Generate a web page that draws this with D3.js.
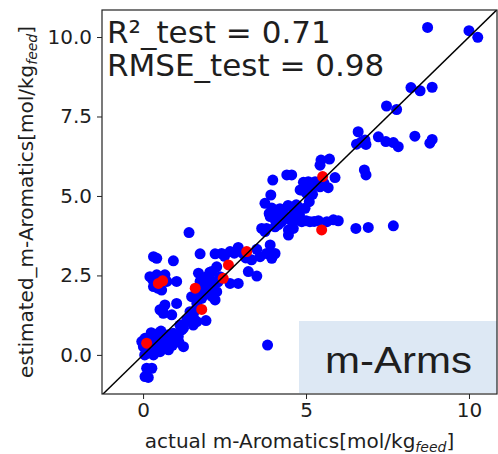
<!DOCTYPE html>
<html>
<head>
<meta charset="utf-8">
<script src="https://cdn.jsdelivr.net/npm/d3@7"></script>
<style>
  html, body { margin: 0; padding: 0; background: #fff; }
  svg { display: block; }
  text { font-family: "DejaVu Sans", sans-serif; fill: #1e1e1e; }
</style>
</head>
<body>
<svg id="chart" width="498" height="454"></svg>
<script>
// Parity plot: actual vs estimated m-Aromatics (mol/kg feed)
const xDomain = [-1.26, 10.86];
const yDomain = [-1.23, 10.85];
const xTicks = [0, 5, 10];
const yTicks = [0, 2.5, 5, 7.5, 10];
const r2Text = "R\u00b2_test = 0.71";
const rmseText = "RMSE_test = 0.98";
const tagText = "m-Arms";

// training samples [actual, estimated]
const trainPoints = [
  [8.73,10.30],[10.00,10.20],[10.27,9.99],[8.22,8.41],[8.50,8.31],[8.87,8.42],
  [7.47,7.83],[7.78,7.72],[6.60,7.02],[6.55,6.63],[6.81,6.76],[6.84,6.62],[6.70,6.70],
  [7.22,6.86],[7.45,6.71],[7.68,6.68],[7.83,6.55],[8.34,6.88],[8.87,6.78],[8.80,6.66],
  [6.79,5.82],[6.84,5.66],
  [5.46,6.13],[5.72,6.16],[5.43,5.97],[5.89,5.58],[5.28,5.45],[5.43,5.29],[5.68,5.26],
  [5.17,5.29],[4.92,5.43],[4.82,5.19],[5.02,5.08],[5.10,4.82],[4.97,4.61],[4.76,4.66],
  [4.61,4.45],[4.71,4.25],[4.51,4.25],[4.41,5.66],[4.56,5.66],[3.98,5.50],[3.92,5.03],
  [3.74,4.77],[3.87,4.45],[4.10,4.45],[4.30,4.56],[4.05,4.25],[4.25,4.19],[3.79,3.98],
  [3.64,3.98],[4.05,4.03],[4.46,3.93],[4.46,3.77],[4.61,3.98],[4.87,4.19],[5.12,4.19],
  [5.38,4.22],[5.64,4.19],[5.84,4.25],[5.99,4.22],[6.53,3.98],[6.91,4.01],[7.68,4.06],
  [1.41,3.85],[5.07,5.45],[4.87,5.19],[4.20,4.60],[4.00,4.50],[3.90,4.35],[4.45,4.70],
  [4.70,4.72],[4.80,4.40],[3.74,3.88],[5.05,5.15],[5.00,4.22],[5.25,4.20],
  [4.15,4.10],[4.35,4.35],[3.95,4.62],[5.55,5.40],[5.20,5.05],
  [2.92,3.38],[2.67,3.25],[2.41,3.19],[2.21,3.18],[1.75,3.18],[3.49,3.32],[3.59,3.09],
  [3.90,3.46],[3.79,3.19],[4.05,3.19],[3.95,3.04],[3.33,2.99],[3.23,2.62],[3.49,2.48],
  [2.26,2.77],[2.11,2.62],[1.95,2.46],[1.70,2.57],[1.75,2.31],[1.90,2.25],[2.16,2.20],
  [2.36,2.46],[2.67,2.25],[2.92,2.25],[2.26,1.99],[1.90,1.94],[1.49,1.83],[1.80,1.78],
  [2.21,1.73],[1.65,1.62],[1.44,1.36],[1.54,1.20],[1.34,1.10],[1.65,1.05],[1.93,1.08],
  [1.13,0.94],[1.24,0.84],[1.54,0.94],[2.05,2.40],[2.50,3.10],[3.05,3.20],[2.00,2.05],
  [1.60,1.40],[2.05,2.60],[1.85,2.10],[2.30,2.30],[1.70,1.95],[2.10,1.85],[1.45,1.10],
  [3.15,3.05],[2.80,3.20],
  [0.32,3.09],[0.42,3.04],[0.93,2.96],[0.21,2.46],[0.42,2.52],[0.67,2.52],[0.73,2.31],
  [0.32,2.15],[0.57,2.04],[1.03,2.31],[1.03,1.62],[0.67,1.57],[0.52,1.42],[0.62,1.31],
  [0.88,1.26],[0.30,2.35],[0.55,2.40],[0.45,2.10],[0.60,1.45],
  [0.01,0.26],[0.06,0.52],[0.27,0.58],[0.47,0.68],[0.62,0.58],[0.78,0.63],[0.93,0.68],
  [0.98,0.47],[0.73,0.37],[0.42,0.31],[0.27,0.16],[0.52,0.10],[0.78,0.16],[0.32,0.00],
  [0.11,0.05],[-0.04,0.42],[1.24,0.26],[1.19,0.79],[1.08,0.58],[0.11,-0.42],[0.27,-0.42],
  [0.06,-0.68],[0.16,-0.71],[3.82,0.31],[0.20,0.30],[0.60,0.40],[0.85,0.45],[0.40,0.50],
  [0.15,0.15],[0.50,0.45],[0.35,0.40],[0.65,0.25],[0.90,0.30],[1.10,0.40],[0.25,0.70],
  [0.55,0.75],[0.05,0.00],[0.45,0.15]
];

// test samples [actual, estimated]
const testPoints = [
  [5.51,5.61],[5.48,3.93],[3.18,3.25],[2.62,2.83],[2.46,2.41],[1.60,2.10],
  [1.80,1.43],[0.47,2.25],[0.60,2.33],[0.11,0.37]
];

const svg = d3.select("#chart");
const plot = { left: 102, top: 10, right: 497, bottom: 394 };

const x = d3.scaleLinear().domain(xDomain).range([plot.left, plot.right]);
const y = d3.scaleLinear().domain(yDomain).range([plot.bottom, plot.top]);

svg.append("defs").append("clipPath").attr("id", "plotClip")
  .append("rect")
  .attr("x", plot.left).attr("y", plot.top)
  .attr("width", plot.right - plot.left).attr("height", plot.bottom - plot.top);

const g = svg.append("g").attr("clip-path", "url(#plotClip)");

g.selectAll("circle.train").data(trainPoints).join("circle")
  .attr("class", "train")
  .attr("cx", d => x(d[0])).attr("cy", d => y(d[1]))
  .attr("r", 5.5).attr("fill", "#0000ff");

g.selectAll("circle.test").data(testPoints).join("circle")
  .attr("class", "test")
  .attr("cx", d => x(d[0])).attr("cy", d => y(d[1]))
  .attr("r", 5.5).attr("fill", "#ff0000");

// y = x reference line
const diag = [Math.min(xDomain[0], yDomain[0]) - 1, Math.max(xDomain[1], yDomain[1]) + 1];
g.append("line")
  .attr("x1", x(diag[0])).attr("y1", y(diag[0]))
  .attr("x2", x(diag[1])).attr("y2", y(diag[1]))
  .attr("stroke", "#000").attr("stroke-width", 1.5);

// axes
const xAxis = svg.append("g")
  .attr("transform", `translate(0,${plot.bottom})`)
  .call(d3.axisBottom(x).tickValues(xTicks).tickFormat(d3.format("d")).tickSize(5).tickPadding(4));
const yAxis = svg.append("g")
  .attr("transform", `translate(${plot.left},0)`)
  .call(d3.axisLeft(y).tickValues(yTicks).tickFormat(d3.format(".1f")).tickSize(5).tickPadding(5));

[xAxis, yAxis].forEach(a => {
  a.select(".domain").remove();
  a.selectAll(".tick line").attr("stroke", "#222").attr("stroke-width", 1);
  a.selectAll(".tick text")
    .style("font-family", "'DejaVu Sans', sans-serif")
    .style("font-size", "20px").attr("fill", "#262626");
});

// tag box
svg.append("rect")
  .attr("x", 299).attr("y", 321).attr("width", 198).attr("height", 72)
  .attr("fill", "#dde8f4");

// frame
svg.append("rect")
  .attr("x", plot.left).attr("y", plot.top)
  .attr("width", plot.right - plot.left).attr("height", plot.bottom - plot.top)
  .attr("fill", "none").attr("stroke", "#222").attr("stroke-width", 1.2);

svg.append("text")
  .attr("x", 325).attr("y", 373)
  .attr("textLength", 147).attr("lengthAdjust", "spacingAndGlyphs")
  .style("font-family", "'Liberation Sans', Arial, sans-serif")
  .style("font-size", "37px").attr("fill", "#000")
  .text(tagText);

// metrics
svg.append("text").attr("x", 107).attr("y", 43)
  .style("font-size", "31px").text(r2Text);
svg.append("text").attr("x", 107).attr("y", 76)
  .style("font-size", "31px").text(rmseText);

// axis titles with subscript
const xLabel = svg.append("text")
  .attr("x", (plot.left + plot.right) / 2).attr("y", 448)
  .attr("text-anchor", "middle").style("font-size", "20px").attr("fill", "#262626");
xLabel.append("tspan").text("actual m-Aromatics[mol/kg");
xLabel.append("tspan").attr("dy", 4).style("font-size", "14px").style("font-style", "italic").text("feed");
xLabel.append("tspan").attr("dy", -4).text("]");

const yLabel = svg.append("text")
  .attr("transform", `translate(33,${(plot.top + plot.bottom) / 2}) rotate(-90)`)
  .attr("text-anchor", "middle").style("font-size", "20px").attr("fill", "#262626");
yLabel.append("tspan").text("estimated_m-Aromatics[mol/kg");
yLabel.append("tspan").attr("dy", 4).style("font-size", "14px").style("font-style", "italic").text("feed");
yLabel.append("tspan").attr("dy", -4).text("]");
</script>
</body>
</html>
